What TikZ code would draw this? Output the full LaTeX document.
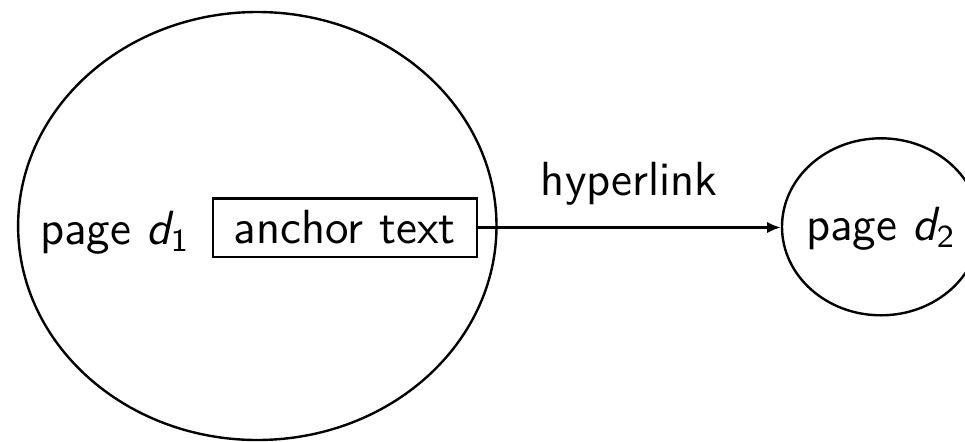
\documentclass[tikz,border=0pt]{standalone}
\usetikzlibrary{shapes.geometric,arrows.meta}
\begin{document}
\begin{tikzpicture}[x=0.25pt,y=-0.25pt,
  font=\fontsize{12}{14}\selectfont\sffamily,
  line width=0.6pt,
  pageshape/.style={draw, ellipse, inner sep=0pt},
  anchorbox/.style={draw, rectangle, inner sep=0pt, minimum width=66pt, minimum height=14.6pt},
  link/.style={-{Latex[length=3.4pt,width=2.8pt]}}]
\useasboundingbox (0,0) rectangle (965,441);
\clip (0,0) rectangle (965,441);
\node[pageshape, minimum width=119.6pt, minimum height=107pt] (d1) at (257.3,226) {};
\node[anchor=base] (d1label) at (115,244) {page {\itshape d}\textsubscript{1}};
\node[anchorbox] (anchor) at (344.7,227.5) {anchor text};
\node[pageshape, minimum width=49.5pt, minimum height=44.25pt] (d2) at (881,226.8) {};
\node[anchor=base] (d2label) at (881,240) {page {\itshape d}\textsubscript{2}};
\draw[link] (anchor.east) -- (anchor.east -| d2.west) node[midway, above=2pt] (hl) {hyperlink};
\end{tikzpicture}
\end{document}
